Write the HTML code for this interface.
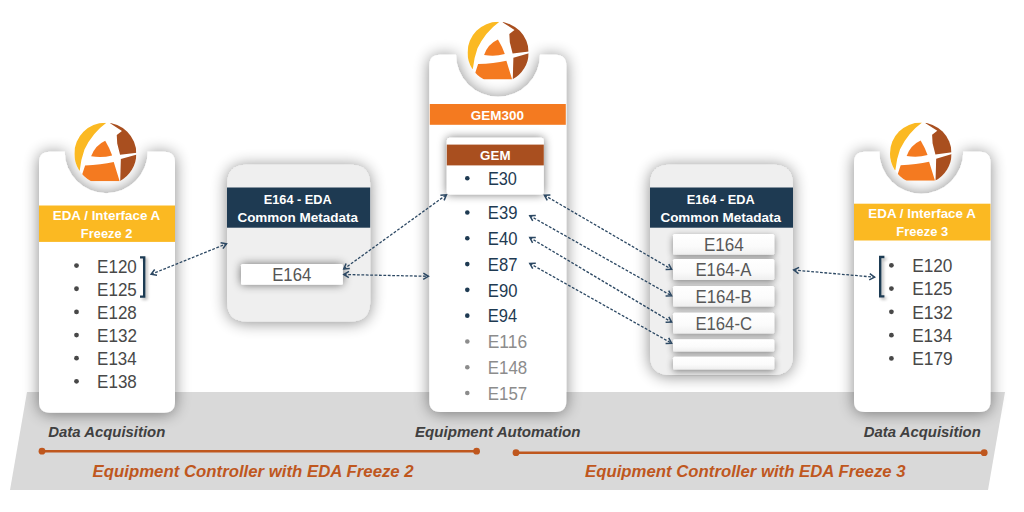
<!DOCTYPE html>
<html><head><meta charset="utf-8"><title>EDA Freeze</title>
<style>html,body{margin:0;padding:0;background:#fff;width:1024px;height:512px;overflow:hidden}svg{display:block}text{font-family:"Liberation Sans", sans-serif}</style>
</head><body><svg width="1024" height="512" viewBox="0 0 1024 512" font-family='"Liberation Sans", sans-serif'><defs><linearGradient id="bg" x1="0" y1="0" x2="0" y2="1"><stop offset="0" stop-color="#fff"/><stop offset="0.6" stop-color="#fbfbfb"/><stop offset="1" stop-color="#efefef"/></linearGradient><filter id="sh" x="-30%" y="-30%" width="160%" height="160%"><feGaussianBlur in="SourceAlpha" stdDeviation="8"/><feOffset dx="0" dy="1"/><feComponentTransfer><feFuncA type="linear" slope="0.47"/></feComponentTransfer><feMerge><feMergeNode/><feMergeNode in="SourceGraphic"/></feMerge></filter><filter id="sh3" x="-30%" y="-50%" width="160%" height="200%"><feGaussianBlur in="SourceAlpha" stdDeviation="3.5"/><feOffset dx="0" dy="2"/><feComponentTransfer><feFuncA type="linear" slope="0.45"/></feComponentTransfer><feMerge><feMergeNode/><feMergeNode in="SourceGraphic"/></feMerge></filter><filter id="sh4" x="-30%" y="-60%" width="160%" height="220%"><feGaussianBlur in="SourceAlpha" stdDeviation="5"/><feOffset dx="0" dy="0"/><feComponentTransfer><feFuncA type="linear" slope="0.55"/></feComponentTransfer><feMerge><feMergeNode/><feMergeNode in="SourceGraphic"/></feMerge></filter><filter id="shb" filterUnits="userSpaceOnUse" x="0" y="0" width="1024" height="512"><feGaussianBlur in="SourceAlpha" stdDeviation="1.5"/><feOffset dx="1.5" dy="1.5"/><feComponentTransfer><feFuncA type="linear" slope="0.3"/></feComponentTransfer><feMerge><feMergeNode/><feMergeNode in="SourceGraphic"/></feMerge></filter><filter id="sh2" x="-20%" y="-50%" width="140%" height="200%"><feGaussianBlur in="SourceAlpha" stdDeviation="2.5"/><feOffset dx="0" dy="1.5"/><feComponentTransfer><feFuncA type="linear" slope="0.5"/></feComponentTransfer><feMerge><feMergeNode/><feMergeNode in="SourceGraphic"/></feMerge></filter></defs><polygon points="27,392 1005,392 988,490 10,490" fill="#d9d9d9"/><path d="M50,151.7 L64.7,151.7 A41.5,41.5 0 0 0 147.7,151.7 L164,151.7 Q175,151.7 175,162.7 L175,401.7 Q175,412.7 164,412.7 L50,412.7 Q39,412.7 39,401.7 L39,162.7 Q39,151.7 50,151.7 Z" fill="#fff" filter="url(#sh)"/><path d="M440.3,54.8 L456,54.8 A42,42 0 0 0 540,54.8 L555.3,54.8 Q566.3,54.8 566.3,65.8 L566.3,401 Q566.3,412 555.3,412 L440.3,412 Q429.3,412 429.3,401 L429.3,65.8 Q429.3,54.8 440.3,54.8 Z" fill="#fff" filter="url(#sh)"/><path d="M865,151.8 L879.3,151.8 A42,42 0 0 0 963.3,151.8 L979.5,151.8 Q990.5,151.8 990.5,162.8 L990.5,401 Q990.5,412 979.5,412 L865,412 Q854,412 854,401 L854,162.8 Q854,151.8 865,151.8 Z" fill="#fff" filter="url(#sh)"/><path d="M247,164.8 L350.2,164.8 Q370.2,164.8 370.2,184.8 L370.2,301.5 Q370.2,321.5 350.2,321.5 L247,321.5 Q227,321.5 227,301.5 L227,184.8 Q227,164.8 247,164.8 Z" fill="#efefef" filter="url(#sh)"/><path d="M670,164.8 L773,164.8 Q793,164.8 793,184.8 L793,355 Q793,375 773,375 L670,375 Q650,375 650,355 L650,184.8 Q650,164.8 670,164.8 Z" fill="#efefef" filter="url(#sh)"/><g transform="translate(65.49,111.63) scale(0.1582)"><clipPath id="lc105"><path d="M56,266 A196,196 0 0 1 448,266 A196,196 0 0 1 342.2,440 L161.8,440 A196,196 0 0 1 56,266 Z"/></clipPath><g clip-path="url(#lc105)"><rect x="40" y="50" width="430" height="420" fill="#fff"/><path d="M262,50 L258.6,71 Q170,135 120,240 Q98,300 90,373 L0,390 L0,50 Z" fill="#fbb922"/><path d="M251,184 Q188,212 162,282 Q229,294 295,277 Q278,228 251,184 Z" fill="#f47a20"/><path d="M124,341 Q225,336 305,319 L341,436 L341,470 L90,470 L98,420 Z" fill="#f47a20"/><path d="M282,40 L282,74 L357,122 L324,148 L327,201 L345,273 L470,257 L470,40 Z" fill="#a94f1f"/><path d="M350,300 L470,265 L470,470 L345,470 Z" fill="#a94f1f"/></g></g><g transform="translate(458.76,10.87) scale(0.1561)"><clipPath id="lc498"><path d="M56,266 A196,196 0 0 1 448,266 A196,196 0 0 1 342.2,440 L161.8,440 A196,196 0 0 1 56,266 Z"/></clipPath><g clip-path="url(#lc498)"><rect x="40" y="50" width="430" height="420" fill="#fff"/><path d="M262,50 L258.6,71 Q170,135 120,240 Q98,300 90,373 L0,390 L0,50 Z" fill="#fbb922"/><path d="M251,184 Q188,212 162,282 Q229,294 295,277 Q278,228 251,184 Z" fill="#f47a20"/><path d="M124,341 Q225,336 305,319 L341,436 L341,470 L90,470 L98,420 Z" fill="#f47a20"/><path d="M282,40 L282,74 L357,122 L324,148 L327,201 L345,273 L470,257 L470,40 Z" fill="#a94f1f"/><path d="M350,300 L470,265 L470,470 L345,470 Z" fill="#a94f1f"/></g></g><g transform="translate(881.20,111.60) scale(0.1571)"><clipPath id="lc920"><path d="M56,266 A196,196 0 0 1 448,266 A196,196 0 0 1 342.2,440 L161.8,440 A196,196 0 0 1 56,266 Z"/></clipPath><g clip-path="url(#lc920)"><rect x="40" y="50" width="430" height="420" fill="#fff"/><path d="M262,50 L258.6,71 Q170,135 120,240 Q98,300 90,373 L0,390 L0,50 Z" fill="#fbb922"/><path d="M251,184 Q188,212 162,282 Q229,294 295,277 Q278,228 251,184 Z" fill="#f47a20"/><path d="M124,341 Q225,336 305,319 L341,436 L341,470 L90,470 L98,420 Z" fill="#f47a20"/><path d="M282,40 L282,74 L357,122 L324,148 L327,201 L345,273 L470,257 L470,40 Z" fill="#a94f1f"/><path d="M350,300 L470,265 L470,470 L345,470 Z" fill="#a94f1f"/></g></g><rect x="39" y="205.5" width="136" height="36.4" fill="#fbb922"/><text transform="translate(52.74,219.90) scale(1.0191,1)" font-size="13.14" fill="#fff" font-weight="700" font-style="normal">EDA / Interface A</text><text transform="translate(80.86,238.10) scale(0.9815,1)" font-size="13.14" fill="#fff" font-weight="700" font-style="normal">Freeze 2</text><circle cx="76.5" cy="265.60" r="2.4" fill="#484848"/><text transform="translate(97.12,272.60) scale(0.9227,1)" font-size="18.43" fill="#484848" font-weight="400" font-style="normal">E120</text><circle cx="76.5" cy="288.75" r="2.4" fill="#484848"/><text transform="translate(97.12,295.75) scale(0.9227,1)" font-size="18.43" fill="#484848" font-weight="400" font-style="normal">E125</text><circle cx="76.5" cy="311.90" r="2.4" fill="#484848"/><text transform="translate(97.12,318.90) scale(0.9227,1)" font-size="18.43" fill="#484848" font-weight="400" font-style="normal">E128</text><circle cx="76.5" cy="335.05" r="2.4" fill="#484848"/><text transform="translate(97.11,342.05) scale(0.9284,1)" font-size="18.43" fill="#484848" font-weight="400" font-style="normal">E132</text><circle cx="76.5" cy="358.20" r="2.4" fill="#484848"/><text transform="translate(97.12,365.20) scale(0.9171,1)" font-size="18.43" fill="#484848" font-weight="400" font-style="normal">E134</text><circle cx="76.5" cy="381.35" r="2.4" fill="#484848"/><text transform="translate(97.12,388.35) scale(0.9227,1)" font-size="18.43" fill="#484848" font-weight="400" font-style="normal">E138</text><path d="M140,257.4 L144.2,257.4 L144.2,296.6 L140,296.6" fill="none" stroke="#1e3a52" stroke-width="2.4" filter="url(#shb)"/><rect x="429.8" y="104" width="136" height="20.8" fill="#f47a20"/><text transform="translate(470.79,119.50) scale(1.0146,1)" font-size="13.29" fill="#fff" font-weight="700" font-style="normal">GEM300</text><rect x="446.8" y="137.8" width="97" height="56.6" rx="3" fill="#fff" filter="url(#sh4)"/><rect x="446.8" y="144.6" width="97" height="20.8" fill="#a94f1f"/><text transform="translate(480.10,160.30) scale(1.0052,1)" font-size="13.29" fill="#fff" font-weight="700" font-style="normal">GEM</text><circle cx="467.3" cy="178.3" r="2.3" fill="#1e3a52"/><text transform="translate(487.91,184.90) scale(0.9293,1)" font-size="17.57" fill="#1e3a52" font-weight="400" font-style="normal">E30</text><circle cx="467.3" cy="212.50" r="2.3" fill="#1e3a52"/><text transform="translate(487.82,219.30) scale(0.9167,1)" font-size="18.14" fill="#1e3a52" font-weight="400" font-style="normal">E39</text><circle cx="467.3" cy="238.29" r="2.3" fill="#1e3a52"/><text transform="translate(487.82,245.09) scale(0.9167,1)" font-size="18.14" fill="#1e3a52" font-weight="400" font-style="normal">E40</text><circle cx="467.3" cy="264.08" r="2.3" fill="#1e3a52"/><text transform="translate(487.82,270.88) scale(0.9167,1)" font-size="18.14" fill="#1e3a52" font-weight="400" font-style="normal">E87</text><circle cx="467.3" cy="289.87" r="2.3" fill="#1e3a52"/><text transform="translate(487.82,296.67) scale(0.9167,1)" font-size="18.14" fill="#1e3a52" font-weight="400" font-style="normal">E90</text><circle cx="467.3" cy="315.66" r="2.3" fill="#1e3a52"/><text transform="translate(487.84,322.46) scale(0.9091,1)" font-size="18.14" fill="#1e3a52" font-weight="400" font-style="normal">E94</text><circle cx="467.3" cy="341.45" r="2.3" fill="#8c8c8c"/><text transform="translate(487.76,348.25) scale(0.9600,1)" font-size="18.14" fill="#8c8c8c" font-weight="400" font-style="normal">E116</text><circle cx="467.3" cy="367.24" r="2.3" fill="#8c8c8c"/><text transform="translate(487.81,374.04) scale(0.9300,1)" font-size="18.14" fill="#8c8c8c" font-weight="400" font-style="normal">E148</text><circle cx="467.3" cy="393.03" r="2.3" fill="#8c8c8c"/><text transform="translate(487.81,399.83) scale(0.9300,1)" font-size="18.14" fill="#8c8c8c" font-weight="400" font-style="normal">E157</text><rect x="227" y="187.5" width="143.2" height="40.2" fill="#1e3a52"/><text transform="translate(263.76,203.70) scale(0.9802,1)" font-size="13.0" fill="#fff" font-weight="700" font-style="normal">E164 - EDA</text><text transform="translate(237.40,221.60) scale(0.9942,1)" font-size="13.57" fill="#fff" font-weight="700" font-style="normal">Common Metadata</text><rect x="241" y="263.9" width="101.9" height="20.9" rx="1.5" fill="#fff" filter="url(#sh4)"/><text transform="translate(272.21,281.20) scale(0.9300,1)" font-size="18.0" fill="#555" font-weight="400" font-style="normal">E164</text><rect x="650" y="187.5" width="143" height="40.2" fill="#1e3a52"/><text transform="translate(686.76,203.70) scale(0.9802,1)" font-size="13.0" fill="#fff" font-weight="700" font-style="normal">E164 - EDA</text><text transform="translate(660.40,221.60) scale(0.9942,1)" font-size="13.57" fill="#fff" font-weight="700" font-style="normal">Common Metadata</text><rect x="673" y="234" width="101.3" height="20.8" rx="1.5" fill="url(#bg)" filter="url(#sh3)"/><text transform="translate(703.97,250.50) scale(0.9560,1)" font-size="17.86" fill="#585858" font-weight="400" font-style="normal">E164</text><rect x="673" y="259.1" width="101.3" height="20.9" rx="1.5" fill="url(#bg)" filter="url(#sh3)"/><text transform="translate(695.39,276.30) scale(0.9397,1)" font-size="17.86" fill="#585858" font-weight="400" font-style="normal">E164-A</text><rect x="673" y="286" width="101.3" height="20.4" rx="1.5" fill="url(#bg)" filter="url(#sh3)"/><text transform="translate(695.38,303.10) scale(0.9450,1)" font-size="17.86" fill="#585858" font-weight="400" font-style="normal">E164-B</text><rect x="673" y="312.8" width="101.3" height="20.8" rx="1.5" fill="url(#bg)" filter="url(#sh3)"/><text transform="translate(695.40,330.00) scale(0.9356,1)" font-size="17.86" fill="#585858" font-weight="400" font-style="normal">E164-C</text><rect x="673" y="339.3" width="101.3" height="12.1" rx="1.5" fill="url(#bg)" filter="url(#sh3)"/><rect x="673" y="356.8" width="101.3" height="12.7" rx="1.5" fill="url(#bg)" filter="url(#sh3)"/><rect x="854" y="203.7" width="136.5" height="36.8" fill="#fbb922"/><text transform="translate(868.34,218.30) scale(1.0182,1)" font-size="13.14" fill="#fff" font-weight="700" font-style="normal">EDA / Interface A</text><text transform="translate(896.36,236.10) scale(0.9854,1)" font-size="13.14" fill="#fff" font-weight="700" font-style="normal">Freeze 3</text><circle cx="891.4" cy="265.30" r="2.4" fill="#484848"/><text transform="translate(912.19,272.20) scale(0.9432,1)" font-size="18.29" fill="#484848" font-weight="400" font-style="normal">E120</text><circle cx="891.4" cy="288.58" r="2.4" fill="#484848"/><text transform="translate(912.19,295.48) scale(0.9432,1)" font-size="18.29" fill="#484848" font-weight="400" font-style="normal">E125</text><circle cx="891.4" cy="311.86" r="2.4" fill="#484848"/><text transform="translate(912.18,318.76) scale(0.9491,1)" font-size="18.29" fill="#484848" font-weight="400" font-style="normal">E132</text><circle cx="891.4" cy="335.14" r="2.4" fill="#484848"/><text transform="translate(912.19,342.04) scale(0.9374,1)" font-size="18.29" fill="#484848" font-weight="400" font-style="normal">E134</text><circle cx="891.4" cy="358.42" r="2.4" fill="#484848"/><text transform="translate(912.18,365.32) scale(0.9491,1)" font-size="18.29" fill="#484848" font-weight="400" font-style="normal">E179</text><path d="M884.4,257 L880.2,257 L880.2,296.4 L884.4,296.4" fill="none" stroke="#1e3a52" stroke-width="2.4" filter="url(#shb)"/><line x1="151.1" y1="274.3" x2="226.5" y2="243.8" stroke="#2c4863" stroke-width="1.3" stroke-dasharray="2.8,1.6"/><polyline points="222.93,248.63 226.5,243.8 220.58,242.81" fill="none" stroke="#2c4863" stroke-width="1.5"/><polyline points="154.67,269.47 151.1,274.3 157.02,275.29" fill="none" stroke="#2c4863" stroke-width="1.5"/><line x1="343.8" y1="269" x2="446.4" y2="194.8" stroke="#2c4863" stroke-width="1.3" stroke-dasharray="2.8,1.6"/><polyline points="444.09,200.34 446.4,194.8 440.42,195.26" fill="none" stroke="#2c4863" stroke-width="1.5"/><polyline points="346.11,263.46 343.8,269 349.78,268.54" fill="none" stroke="#2c4863" stroke-width="1.5"/><line x1="343.8" y1="274.5" x2="428.4" y2="276.3" stroke="#2c4863" stroke-width="1.3" stroke-dasharray="2.8,1.6"/><polyline points="423.22,279.33 428.4,276.3 423.35,273.06" fill="none" stroke="#2c4863" stroke-width="1.5"/><polyline points="348.98,271.47 343.8,274.5 348.85,277.74" fill="none" stroke="#2c4863" stroke-width="1.5"/><line x1="544.4" y1="195.2" x2="671.6" y2="269.3" stroke="#2c4863" stroke-width="1.3" stroke-dasharray="2.8,1.6"/><polyline points="665.60,269.44 671.6,269.3 668.76,264.02" fill="none" stroke="#2c4863" stroke-width="1.5"/><polyline points="550.40,195.06 544.4,195.2 547.24,200.48" fill="none" stroke="#2c4863" stroke-width="1.5"/><line x1="529.8" y1="215.7" x2="671.6" y2="295.8" stroke="#2c4863" stroke-width="1.3" stroke-dasharray="2.8,1.6"/><polyline points="665.60,296.01 671.6,295.8 668.69,290.55" fill="none" stroke="#2c4863" stroke-width="1.5"/><polyline points="535.80,215.49 529.8,215.7 532.71,220.95" fill="none" stroke="#2c4863" stroke-width="1.5"/><line x1="529.8" y1="237.6" x2="671.6" y2="322.1" stroke="#2c4863" stroke-width="1.3" stroke-dasharray="2.8,1.6"/><polyline points="665.60,322.18 671.6,322.1 668.81,316.79" fill="none" stroke="#2c4863" stroke-width="1.5"/><polyline points="535.80,237.52 529.8,237.6 532.59,242.91" fill="none" stroke="#2c4863" stroke-width="1.5"/><line x1="529.8" y1="263.5" x2="671.6" y2="343.2" stroke="#2c4863" stroke-width="1.3" stroke-dasharray="2.8,1.6"/><polyline points="665.60,343.43 671.6,343.2 668.68,337.96" fill="none" stroke="#2c4863" stroke-width="1.5"/><polyline points="535.80,263.27 529.8,263.5 532.72,268.74" fill="none" stroke="#2c4863" stroke-width="1.5"/><line x1="793.7" y1="270" x2="874.6" y2="277.2" stroke="#2c4863" stroke-width="1.3" stroke-dasharray="2.8,1.6"/><polyline points="869.23,279.87 874.6,277.2 869.78,273.62" fill="none" stroke="#2c4863" stroke-width="1.5"/><polyline points="799.07,267.33 793.7,270 798.52,273.58" fill="none" stroke="#2c4863" stroke-width="1.5"/><text transform="translate(48.24,436.70) scale(1.0238,1)" font-size="14.57" fill="#404040" font-weight="700" font-style="italic">Data Acquisition</text><text transform="translate(414.95,437.00) scale(1.0080,1)" font-size="15.0" fill="#404040" font-weight="700" font-style="italic">Equipment Automation</text><text transform="translate(863.74,437.00) scale(1.0238,1)" font-size="14.57" fill="#404040" font-weight="700" font-style="italic">Data Acquisition</text><line x1="42" y1="451.2" x2="476.6" y2="451.2" stroke="#bf571e" stroke-width="2.4"/><circle cx="42" cy="451.2" r="3.4" fill="#bf571e"/><circle cx="476.6" cy="451.2" r="3.4" fill="#bf571e"/><line x1="516" y1="452.7" x2="984.2" y2="452.7" stroke="#bf571e" stroke-width="2.4"/><circle cx="516" cy="452.7" r="3.4" fill="#bf571e"/><circle cx="984.2" cy="452.7" r="3.4" fill="#bf571e"/><text transform="translate(92.56,476.75) scale(0.9717,1)" font-size="17.29" fill="#bf571e" font-weight="700" font-style="italic">Equipment Controller with EDA Freeze 2</text><text transform="translate(585.01,476.90) scale(0.9700,1)" font-size="17.29" fill="#bf571e" font-weight="700" font-style="italic">Equipment Controller with EDA Freeze 3</text></svg></body></html>
